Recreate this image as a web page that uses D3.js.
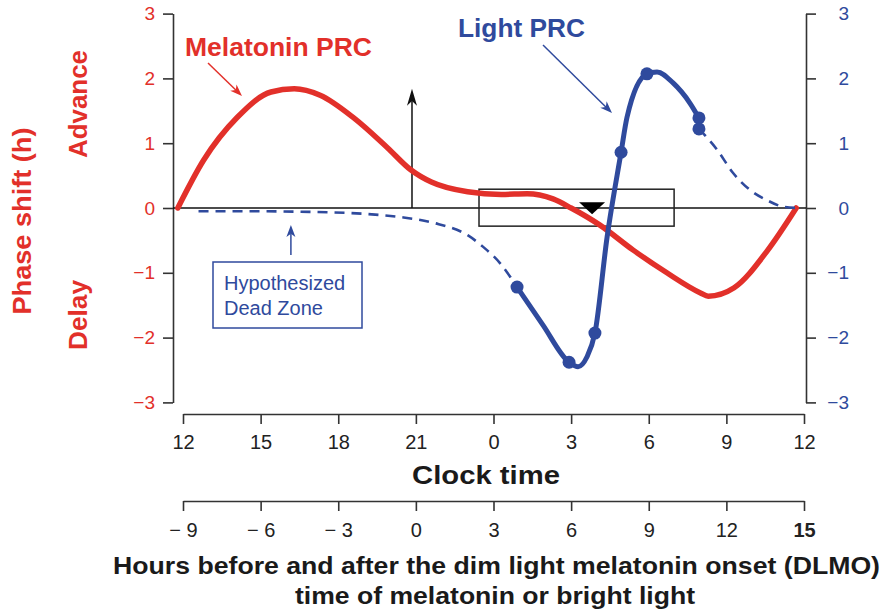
<!DOCTYPE html>
<html>
<head>
<meta charset="utf-8">
<script src="https://cdn.jsdelivr.net/npm/d3@7"></script>
<style>
  body { margin: 0; background: #fff; }
  svg { display: block; }
  text { font-family: "Liberation Sans", Arial, Helvetica, sans-serif; }
</style>
</head>
<body>
<svg id="chart" width="884" height="613"></svg>
<script>
// Clock-time axis (hours from noon to noon of the next day)
const clockTicks = [12, 15, 18, 21, 24, 27, 30, 33, 36];
const clockLabels = ["12", "15", "18", "21", "0", "3", "6", "9", "12"];
// Hours relative to dim light melatonin onset (DLMO = 21:00)
const dlmoTicks = [-9, -6, -3, 0, 3, 6, 9, 12, 15];
const dlmoLabels = ["\u2212 9", "\u2212 6", "\u2212 3", "0", "3", "6", "9", "12", "15"];
const shiftTicks = [-3, -2, -1, 0, 1, 2, 3];

// Melatonin phase response curve (clock hour, phase shift in h)
const melatoninHours = [11.8, 12.8, 14.1, 15.4, 16.3, 17.3, 18.6, 19.9, 20.8, 21.6, 23.0, 24.3, 25.3, 26.3, 27.0, 28.1, 29.4, 30.7, 32.0, 32.3, 33.3, 34.6, 35.7];
const melatoninShift = [0, 0.74, 1.40, 1.79, 1.84, 1.74, 1.39, 0.93, 0.59, 0.40, 0.25, 0.21, 0.22, 0.14, 0.0, -0.26, -0.65, -1.0, -1.31, -1.36, -1.23, -0.65, 0];

// Light phase response curve: hypothesized (dashed) before measured section
const lightEarlyHours = [12.6, 14.5, 16.9, 19.0, 20.4, 21.7, 23.0, 23.6, 24.25, 24.91];
const lightEarlyShift = [-0.05, -0.05, -0.06, -0.09, -0.14, -0.23, -0.42, -0.60, -0.85, -1.22];
// measured section (solid)
const lightSolidHours = [24.91, 25.9, 26.92, 27.27, 27.61, 27.92, 28.39, 28.93, 29.16, 29.93, 30.32, 30.94, 31.59, 31.94];
const lightSolidShift = [-1.22, -1.80, -2.38, -2.45, -2.30, -1.93, -0.45, 0.86, 1.40, 2.07, 2.10, 1.93, 1.62, 1.39];
// hypothesized (dashed) after measured section
const lightLateHours = [31.94, 32.64, 33.26, 33.91, 34.57, 35.19, 35.73];
const lightLateShift = [1.22, 0.90, 0.54, 0.28, 0.12, 0.02, 0];
// measured light pulses
const lightPointHours = [24.91, 26.92, 27.92, 28.93, 29.93, 31.94, 31.94];
const lightPointShift = [-1.22, -2.38, -1.93, 0.86, 2.07, 1.39, 1.22];

const RED = "#e2302a";
const BLUE = "#2f4a9d";
const AXIS = "#333";

const svg = d3.select("#chart");

const x = d3.scaleLinear().domain([12, 36]).range([183, 804]);
const xDlmo = d3.scaleLinear().domain([-9, 15]).range([183, 804]);
const y = d3.scaleLinear().domain([-3, 3]).range([402.4, 13.6]);

const zip = (a, b) => a.map((v, i) => [v, b[i]]);
const line = d3.line().x(d => x(d[0])).y(d => y(d[1])).curve(d3.curveMonotoneX);
const intFmt = d3.format("d");

function styleAxis(g, color, size) {
  g.select(".domain").attr("stroke", AXIS).attr("stroke-width", 1.6);
  g.selectAll(".tick line").attr("stroke", AXIS).attr("stroke-width", 1.6);
  g.selectAll(".tick text").attr("fill", color).style("font-size", size + "px").attr("font-family", null);
}

// Left phase-shift axis
const gLeft = svg.append("g").attr("transform", "translate(173,0)")
  .call(d3.axisLeft(y).tickValues(shiftTicks).tickFormat(intFmt)
    .tickSize(10).tickSizeOuter(0).tickPadding(8));
styleAxis(gLeft, RED, 19);

// Right phase-shift axis
const gRight = svg.append("g").attr("transform", "translate(806,0)")
  .call(d3.axisRight(y).tickValues(shiftTicks).tickFormat(intFmt)
    .tickSize(10).tickSizeOuter(0));
styleAxis(gRight, BLUE, 19);
gRight.selectAll(".tick text").attr("text-anchor", "end").attr("x", 43);

// Clock-time axis
const gClock = svg.append("g").attr("transform", "translate(0,414)")
  .call(d3.axisBottom(x).tickValues(clockTicks).tickFormat((d, i) => clockLabels[i])
    .tickSize(10).tickSizeOuter(0).tickPadding(11));
styleAxis(gClock, "#222", 20);

// DLMO-relative axis
const gDlmo = svg.append("g").attr("transform", "translate(0,501)")
  .call(d3.axisBottom(xDlmo).tickValues(dlmoTicks).tickFormat((d, i) => dlmoLabels[i])
    .tickSize(10).tickSizeOuter(0).tickPadding(12));
styleAxis(gDlmo, "#222", 20);
gDlmo.selectAll(".tick text").filter(d => d === 15).attr("font-weight", "bold");

// Zero reference line
svg.append("line")
  .attr("x1", 173).attr("x2", 806).attr("y1", y(0)).attr("y2", y(0))
  .attr("stroke", "#111").attr("stroke-width", 1.5);

// Window box around the melatonin onset period
svg.append("rect")
  .attr("x", x(23.44)).attr("y", y(0.29))
  .attr("width", x(30.98) - x(23.44)).attr("height", y(-0.28) - y(0.29))
  .attr("fill", "none").attr("stroke", "#222").attr("stroke-width", 1.5);

function arrow(x1, y1, x2, y2, color, w, len, half) {
  const a = Math.atan2(y2 - y1, x2 - x1);
  const ux = Math.cos(a), uy = Math.sin(a);
  const bx = x2 - ux * len, by = y2 - uy * len;
  const nx = x2 - ux * len * 0.72, ny = y2 - uy * len * 0.72;
  svg.append("line").attr("x1", x1).attr("y1", y1).attr("x2", nx).attr("y2", ny)
    .attr("stroke", color).attr("stroke-width", w);
  svg.append("path")
    .attr("d", `M${x2},${y2}L${bx - uy * half},${by + ux * half}L${nx},${ny}L${bx + uy * half},${by - ux * half}Z`)
    .attr("fill", color);
}

// Upward arrow marking the advance zone
arrow(x(20.85), y(0), x(20.85), y(1.84), "#111", 1.5, 17, 5);

// Melatonin PRC curve
svg.append("path")
  .attr("d", line(zip(melatoninHours, melatoninShift)))
  .attr("fill", "none").attr("stroke", RED).attr("stroke-width", 5.5)
  .attr("stroke-linecap", "round").attr("stroke-linejoin", "round");

// Light PRC: dashed hypothesized sections
[zip(lightEarlyHours, lightEarlyShift), zip(lightLateHours, lightLateShift)].forEach(seg => {
  svg.append("path")
    .attr("d", line(seg))
    .attr("fill", "none").attr("stroke", BLUE).attr("stroke-width", 2.6)
    .attr("stroke-dasharray", "10,7");
});

// Light PRC: measured section
svg.append("path")
  .attr("d", line(zip(lightSolidHours, lightSolidShift)))
  .attr("fill", "none").attr("stroke", BLUE).attr("stroke-width", 5)
  .attr("stroke-linecap", "round").attr("stroke-linejoin", "round");

svg.append("g").selectAll("circle")
  .data(zip(lightPointHours, lightPointShift))
  .join("circle")
  .attr("cx", d => x(d[0])).attr("cy", d => y(d[1])).attr("r", 6.5)
  .attr("fill", BLUE);

// Melatonin onset marker
const tx = x(27.81), ty = y(0.09);
svg.append("path")
  .attr("d", `M${tx - 13},${ty}L${tx + 13},${ty}L${tx},${ty + 12}Z`)
  .attr("fill", "#000");

// Curve labels
svg.append("text").attr("x", 185).attr("y", 56)
  .attr("font-weight", "bold").attr("font-size", 25).attr("fill", RED)
  .attr("textLength", 187).attr("lengthAdjust", "spacingAndGlyphs")
  .text("Melatonin PRC");
arrow(208, 63, 242, 96, RED, 1.5, 12, 4.5);

svg.append("text").attr("x", 458).attr("y", 37)
  .attr("font-weight", "bold").attr("font-size", 25).attr("fill", BLUE)
  .attr("textLength", 127).attr("lengthAdjust", "spacingAndGlyphs")
  .text("Light PRC");
arrow(543, 45, 612, 113, BLUE, 1.5, 12, 4.5);

// Dead zone annotation
arrow(x(16.17), 255, x(16.17), 225, BLUE, 1.5, 12, 4.5);
svg.append("rect").attr("x", 213).attr("y", 262).attr("width", 149).attr("height", 66)
  .attr("fill", "#fff").attr("stroke", BLUE).attr("stroke-width", 1.5);
svg.append("text").attr("x", 224).attr("y", 290).attr("font-size", 20).attr("fill", BLUE)
  .text("Hypothesized");
svg.append("text").attr("x", 224).attr("y", 315).attr("font-size", 20).attr("fill", BLUE)
  .text("Dead Zone");

// Y axis titles
function vtext(cx, cy, str, len) {
  const t = svg.append("text")
    .attr("transform", `translate(${cx},${cy}) rotate(-90)`)
    .attr("text-anchor", "middle")
    .attr("font-weight", "bold").attr("font-size", 25).attr("fill", RED)
    .text(str);
  if (len) t.attr("textLength", len).attr("lengthAdjust", "spacingAndGlyphs");
}
vtext(31, 221, "Phase shift (h)", 187);
vtext(87, 104, "Advance", 108);
vtext(87, 315, "Delay", 70);

// X axis titles
svg.append("text").attr("x", 486).attr("y", 484).attr("text-anchor", "middle")
  .attr("font-weight", "bold").attr("font-size", 26).attr("fill", "#1a1a1a")
  .attr("textLength", 148).attr("lengthAdjust", "spacingAndGlyphs")
  .text("Clock time");
svg.append("text").attr("x", 496.5).attr("y", 574).attr("text-anchor", "middle")
  .attr("font-weight", "bold").attr("font-size", 24).attr("fill", "#1a1a1a")
  .attr("textLength", 767).attr("lengthAdjust", "spacingAndGlyphs")
  .text("Hours before and after the dim light melatonin onset (DLMO)");
svg.append("text").attr("x", 495).attr("y", 604).attr("text-anchor", "middle")
  .attr("font-weight", "bold").attr("font-size", 24).attr("fill", "#1a1a1a")
  .attr("textLength", 400).attr("lengthAdjust", "spacingAndGlyphs")
  .text("time of melatonin or bright light");
</script>
</body>
</html>
